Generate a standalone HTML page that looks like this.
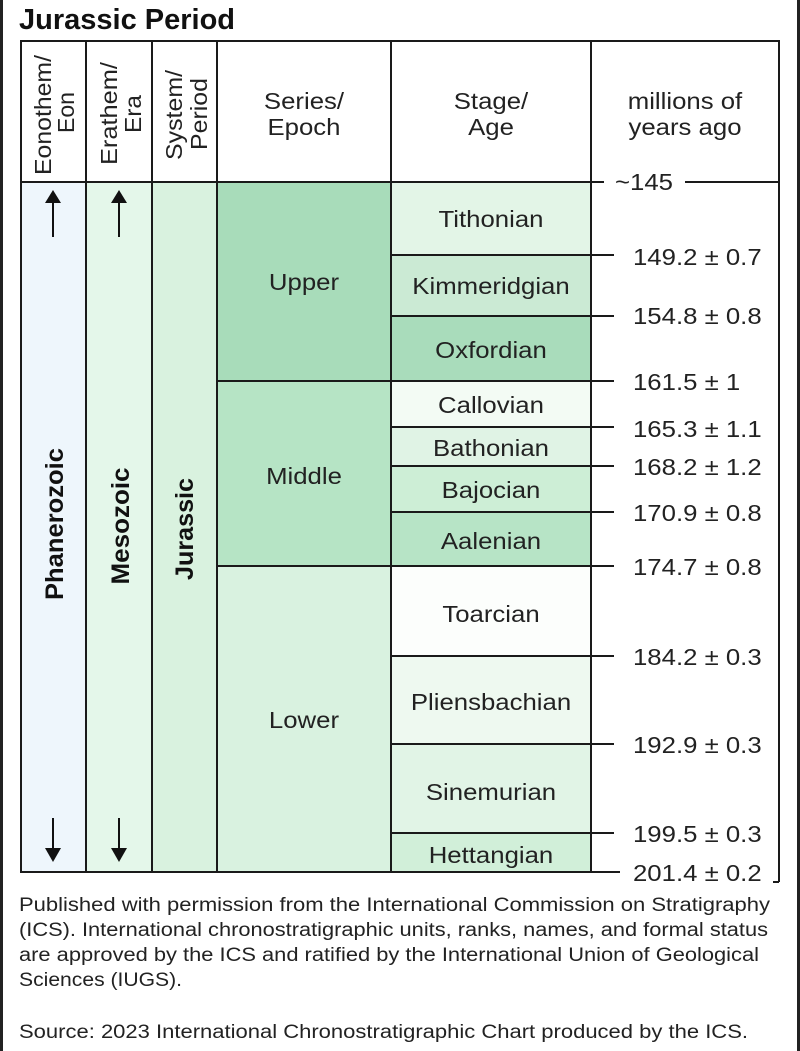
<!DOCTYPE html>
<html><head><meta charset="utf-8"><style>
html,body{margin:0;padding:0;background:#fff;}
svg{display:block;font-family:"Liberation Sans",Arial,sans-serif;}
.c{transform-box:fill-box;transform-origin:center;transform:scaleX(1.12);}
.l{transform-box:fill-box;transform-origin:left;transform:scaleX(1.12);}
.f{transform-box:fill-box;transform-origin:left;transform:scaleX(1.1);}
</style></head><body>
<svg width="800" height="1051" viewBox="0 0 800 1051" xmlns="http://www.w3.org/2000/svg">
<rect x="0" y="0" width="800" height="1051" fill="#fff"/>
<rect x="0" y="0" width="3" height="1051" fill="#222"/>
<rect x="797" y="0" width="3" height="1051" fill="#222"/>
<text x="19" y="29" font-size="29" font-weight="bold" fill="#111">Jurassic Period</text>
<rect x="21" y="182" width="65" height="690" fill="#eef6fc"/>
<rect x="86" y="182" width="66" height="690" fill="#e4f7ea"/>
<rect x="152" y="182" width="65" height="690" fill="#d9f2df"/>
<rect x="217" y="182" width="174" height="199" fill="#a8dcba"/>
<rect x="217" y="381" width="174" height="185" fill="#b6e4c5"/>
<rect x="217" y="566" width="174" height="306" fill="#d9f2e0"/>
<rect x="391" y="182" width="200" height="73" fill="#e3f5e7"/>
<rect x="391" y="255" width="200" height="61" fill="#cbead4"/>
<rect x="391" y="316" width="200" height="65" fill="#a9dcbb"/>
<rect x="391" y="381" width="200" height="46" fill="#f3fbf4"/>
<rect x="391" y="427" width="200" height="39" fill="#e0f3e5"/>
<rect x="391" y="466" width="200" height="46" fill="#cdeed6"/>
<rect x="391" y="512" width="200" height="54" fill="#b7e4c6"/>
<rect x="391" y="566" width="200" height="90" fill="#fcfefc"/>
<rect x="391" y="656" width="200" height="88" fill="#eef9f0"/>
<rect x="391" y="744" width="200" height="89" fill="#e1f4e6"/>
<rect x="391" y="833" width="200" height="39" fill="#d1efd9"/>
<g stroke="#1a1a1a" stroke-width="2" fill="none">
<line x1="20" y1="41" x2="780" y2="41"/>
<line x1="21" y1="41" x2="21" y2="872"/>
<line x1="86" y1="41" x2="86" y2="872"/>
<line x1="152" y1="41" x2="152" y2="872"/>
<line x1="217" y1="41" x2="217" y2="872"/>
<line x1="391" y1="41" x2="391" y2="872"/>
<line x1="591" y1="41" x2="591" y2="872"/>
<line x1="779" y1="41" x2="779" y2="882"/>
<line x1="773" y1="882" x2="779" y2="882"/>
<line x1="20" y1="182" x2="604" y2="182"/>
<line x1="685" y1="182" x2="779" y2="182"/>
<line x1="217" y1="381" x2="614" y2="381"/>
<line x1="217" y1="566" x2="614" y2="566"/>
<line x1="20" y1="872" x2="620" y2="872"/>
<line x1="391" y1="255" x2="614" y2="255"/>
<line x1="391" y1="316" x2="614" y2="316"/>
<line x1="391" y1="427" x2="614" y2="427"/>
<line x1="391" y1="466" x2="614" y2="466"/>
<line x1="391" y1="512" x2="614" y2="512"/>
<line x1="391" y1="656" x2="614" y2="656"/>
<line x1="391" y1="744" x2="614" y2="744"/>
<line x1="391" y1="833" x2="614" y2="833"/>
</g>
<g font-size="23" fill="#222">
<text transform="translate(51,175) rotate(-90)" textLength="120" lengthAdjust="spacingAndGlyphs">Eonothem/</text>
<text transform="translate(74,133) rotate(-90)" textLength="41" lengthAdjust="spacingAndGlyphs">Eon</text>
<text transform="translate(117,165) rotate(-90)" textLength="103" lengthAdjust="spacingAndGlyphs">Erathem/</text>
<text transform="translate(141,133) rotate(-90)" textLength="38" lengthAdjust="spacingAndGlyphs">Era</text>
<text transform="translate(182,160) rotate(-90)" textLength="90" lengthAdjust="spacingAndGlyphs">System/</text>
<text transform="translate(207,150) rotate(-90)" textLength="72" lengthAdjust="spacingAndGlyphs">Period</text>
<text class="c" x="304" y="109" text-anchor="middle">Series/</text>
<text class="c" x="304" y="135" text-anchor="middle">Epoch</text>
<text class="c" x="491" y="109" text-anchor="middle">Stage/</text>
<text class="c" x="491" y="135" text-anchor="middle">Age</text>
<text class="c" x="685" y="109" text-anchor="middle">millions of</text>
<text class="c" x="685" y="135" text-anchor="middle">years ago</text>
</g>
<g stroke="#111" stroke-width="2">
<line x1="53" y1="198" x2="53" y2="237"/><line x1="119" y1="198" x2="119" y2="237"/>
<line x1="53" y1="818" x2="53" y2="850"/>
<line x1="119" y1="818" x2="119" y2="850"/>
</g>
<g fill="#111">
<polygon points="45,203 61,203 53,190"/><polygon points="111,203 127,203 119,190"/>
<polygon points="45,848 61,848 53,862"/><polygon points="111,848 127,848 119,862"/>
</g>
<g font-size="25" font-weight="bold" fill="#111" text-anchor="middle">
<text transform="translate(63,524) rotate(-90)" textLength="152" lengthAdjust="spacingAndGlyphs">Phanerozoic</text>
<text transform="translate(129,526) rotate(-90)" textLength="117" lengthAdjust="spacingAndGlyphs">Mesozoic</text>
<text transform="translate(193,529) rotate(-90)" textLength="102" lengthAdjust="spacingAndGlyphs">Jurassic</text>
</g>
<g font-size="23" fill="#222" text-anchor="middle">
<text class="c" x="304" y="290">Upper</text>
<text class="c" x="304" y="484">Middle</text>
<text class="c" x="304" y="728">Lower</text>
<text class="c" x="491" y="227">Tithonian</text>
<text class="c" x="491" y="294">Kimmeridgian</text>
<text class="c" x="491" y="358">Oxfordian</text>
<text class="c" x="491" y="413">Callovian</text>
<text class="c" x="491" y="456">Bathonian</text>
<text class="c" x="491" y="498">Bajocian</text>
<text class="c" x="491" y="549">Aalenian</text>
<text class="c" x="491" y="622">Toarcian</text>
<text class="c" x="491" y="710">Pliensbachian</text>
<text class="c" x="491" y="800">Sinemurian</text>
<text class="c" x="491" y="863">Hettangian</text>
</g>
<g font-size="23" fill="#222">
<text class="l" x="615" y="190">~145</text>
<text class="l" x="633" y="265">149.2 ± 0.7</text>
<text class="l" x="633" y="324">154.8 ± 0.8</text>
<text class="l" x="633" y="390">161.5 ± 1</text>
<text class="l" x="633" y="437">165.3 ± 1.1</text>
<text class="l" x="633" y="475">168.2 ± 1.2</text>
<text class="l" x="633" y="521">170.9 ± 0.8</text>
<text class="l" x="633" y="575">174.7 ± 0.8</text>
<text class="l" x="633" y="665">184.2 ± 0.3</text>
<text class="l" x="633" y="753">192.9 ± 0.3</text>
<text class="l" x="633" y="842">199.5 ± 0.3</text>
<text class="l" x="633" y="881">201.4 ± 0.2</text>
</g>
<g font-size="19" fill="#222">
<text x="19" y="911" textLength="751" lengthAdjust="spacingAndGlyphs">Published with permission from the International Commission on Stratigraphy</text>
<text x="19" y="936" textLength="749" lengthAdjust="spacingAndGlyphs">(ICS). International chronostratigraphic units, ranks, names, and formal status</text>
<text x="19" y="961" textLength="740" lengthAdjust="spacingAndGlyphs">are approved by the ICS and ratified by the International Union of Geological</text>
<text x="19" y="986" textLength="163" lengthAdjust="spacingAndGlyphs">Sciences (IUGS).</text>
<text x="19" y="1038" textLength="729" lengthAdjust="spacingAndGlyphs">Source: 2023 International Chronostratigraphic Chart produced by the ICS.</text>
</g>
</svg>
</body></html>
